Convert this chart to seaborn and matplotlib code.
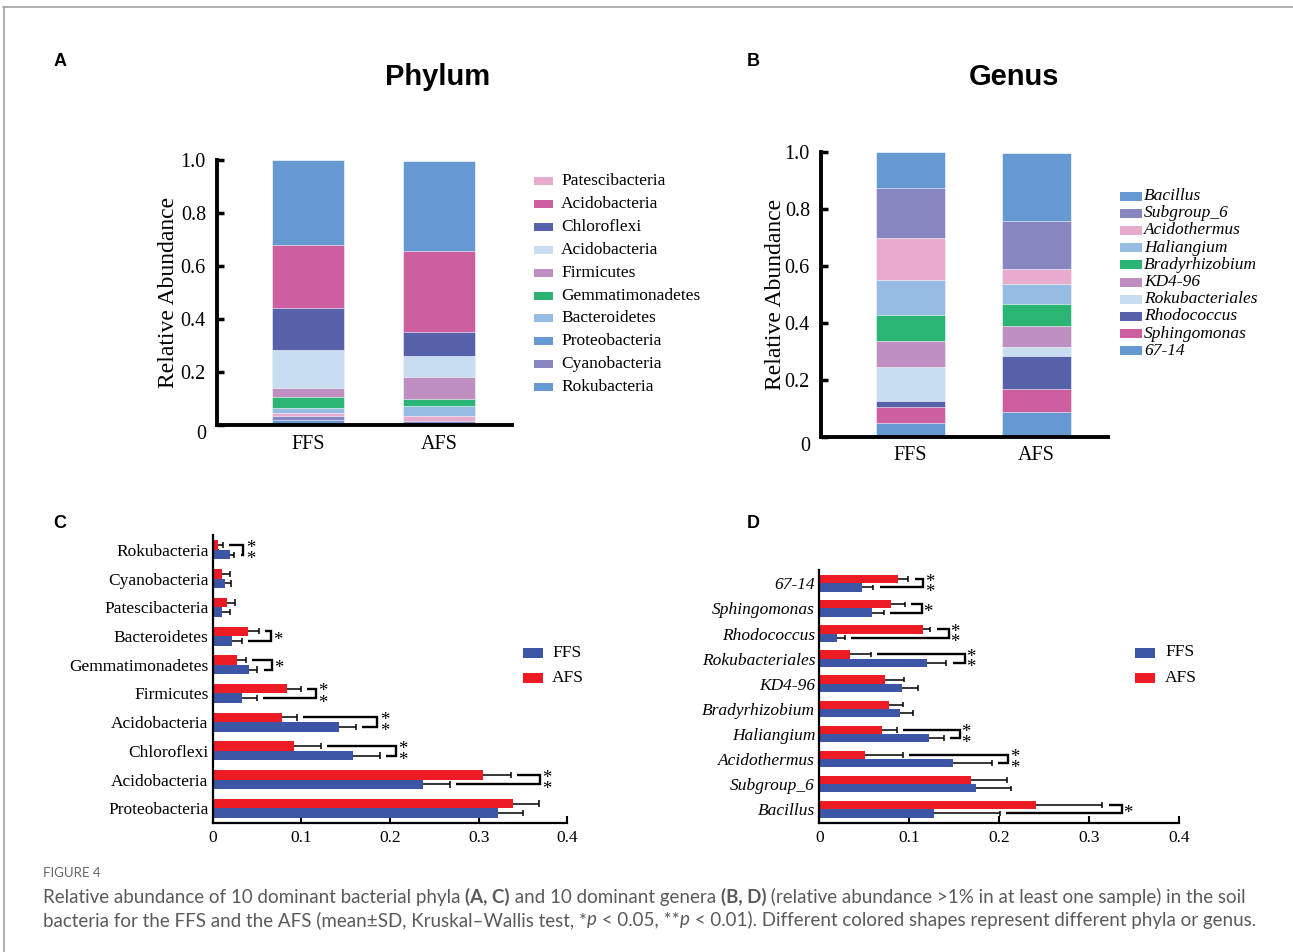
import numpy as np
import pandas as pd
import matplotlib
matplotlib.use("Agg")
import matplotlib.pyplot as plt
from matplotlib.patches import Rectangle
from matplotlib.lines import Line2D
from matplotlib.transforms import offset_copy
import seaborn as sns

# ---------------- data ----------------
groups = ["FFS", "AFS"]

# phyla, listed top-to-bottom in panel C (= bottom-to-top of stacks in panel A)
phyla = ["Rokubacteria", "Cyanobacteria", "Patescibacteria", "Bacteroidetes",
         "Gemmatimonadetes", "Firmicutes", "Acidobacteria", "Chloroflexi",
         "Acidobacteria", "Proteobacteria"]
phy_ffs = [0.0195, 0.014, 0.0105, 0.022, 0.0406, 0.0335, 0.1425, 0.158, 0.2376, 0.3214]
phy_ffs_sd = [0.005, 0.007, 0.009, 0.011, 0.0098, 0.016, 0.019, 0.031, 0.030, 0.029]
phy_afs = [0.0056, 0.011, 0.016, 0.0395, 0.027, 0.0835, 0.078, 0.092, 0.305, 0.339]
phy_afs_sd = [0.0056, 0.009, 0.009, 0.013, 0.0105, 0.016, 0.017, 0.030, 0.031, 0.0286]
phy_sig = ["**", "", "", "*", "*", "**", "**", "**", "**", ""]
phy_legend_order = [2, 8, 7, 6, 5, 4, 3, 9, 1, 0]

# genera, listed top-to-bottom in panel D (= bottom-to-top of stacks in panel B)
genera = ["67-14", "Sphingomonas", "Rhodococcus", "Rokubacteriales", "KD4-96",
          "Bradyrhizobium", "Haliangium", "Acidothermus", "Subgroup_6", "Bacillus"]
gen_ffs = [0.0474, 0.058, 0.0193, 0.120, 0.092, 0.090, 0.1215, 0.149, 0.174, 0.127]
gen_ffs_sd = [0.0126, 0.014, 0.009, 0.021, 0.018, 0.0145, 0.017, 0.0425, 0.039, 0.0737]
gen_afs = [0.087, 0.080, 0.115, 0.034, 0.073, 0.077, 0.070, 0.051, 0.169, 0.2407]
gen_afs_sd = [0.012, 0.015, 0.0085, 0.023, 0.0215, 0.0155, 0.016, 0.0415, 0.039, 0.0737]
gen_sig = ["**", "*", "**", "**", "", "", "**", "**", "", "*"]
gen_legend_order = [9, 8, 7, 6, 5, 4, 3, 2, 1, 0]

xticks_h = [0, 0.1, 0.2, 0.3, 0.4]
xticklabels_h = ["0", "0.1", "0.2", "0.3", "0.4"]
yticks_s = [0, 0.2, 0.4, 0.6, 0.8, 1.0]
yticklabels_s = ["0", "0.2", "0.4", "0.6", "0.8", "1.0"]

# annotation layout (bracket x positions)
phy_bracket_x = [0.0346, None, None, 0.0654, 0.067, 0.116, 0.1857, 0.2068, 0.369, None]
gen_bracket_x = [0.1156, 0.1144, 0.144, 0.162, None, None, 0.156, 0.21, None, 0.336]

# ---------------- colours ----------------
BLUE = "#6699d1"
MAGENTA = "#cd5fa1"
DARKBLUE = "#5761aa"
PALEBLUE = "#c9ddf2"
PURPLEPINK = "#c08fc1"
GREEN = "#2bb574"
LIGHTBLUE = "#96bce4"
PINK = "#e6abcd"
LAVENDER = "#8886c1"
RED_H = "#ed1c24"
BLUE_H = "#3c55a5"

phy_colors = [BLUE, LAVENDER, PINK, LIGHTBLUE, GREEN, PURPLEPINK, PALEBLUE, DARKBLUE, MAGENTA, BLUE]
gen_colors = [BLUE, MAGENTA, DARKBLUE, PALEBLUE, PURPLEPINK, GREEN, LIGHTBLUE, PINK, LAVENDER, BLUE]

# ---------------- style ----------------
W, H = 1293, 952
sns.set_style("white")
plt.rcParams["font.family"] = ["Liberation Serif", "DejaVu Serif"]
for k in ["text.color", "axes.labelcolor", "xtick.color", "ytick.color", "axes.edgecolor"]:
    plt.rcParams[k] = "black"
SANS = ["Liberation Sans", "DejaVu Sans"]
CAPFONT = ["Lato", "DejaVu Sans"]

fig = plt.figure(figsize=(W / 100, H / 100), dpi=100)
fig.patch.set_facecolor("white")
renderer = fig.canvas.get_renderer()


def add_ax(l, t, r, b):
    return fig.add_axes([l / W, 1 - b / H, (r - l) / W, (b - t) / H])


def fx(x):
    return x / W


def fy(y):
    return 1 - y / H


# ---------------- stacked panels ----------------
def stacked(ax, ffs, afs, colors, xlim, ylabel_x):
    cum_f = np.cumsum(ffs)
    cum_a = np.cumsum(afs)
    for j in range(len(ffs) - 1, -1, -1):
        df = pd.DataFrame({"group": groups, "top": [cum_f[j], cum_a[j]]})
        sns.barplot(data=df, x="group", y="top", order=groups, color=colors[j],
                    saturation=1, width=0.55, errorbar=None, edgecolor="white",
                    linewidth=0.4, ax=ax)
    ax.set_xlim(*xlim)
    ax.set_ylim(0, 1.0)
    ax.set_yticks(yticks_s)
    ax.set_yticklabels(yticklabels_s)
    for s in ["top", "right"]:
        ax.spines[s].set_visible(False)
    for s in ["left", "bottom"]:
        ax.spines[s].set_linewidth(2.8)
        ax.spines[s].set_color("black")
        ax.spines[s].set_capstyle("projecting")
    ax.tick_params(axis="y", direction="in", length=5, width=2.5, labelsize=14.5, pad=8, left=True)
    ax.tick_params(axis="x", length=0, labelsize=14.5, pad=7)
    ax.set_xlabel("")
    ax.set_ylabel("Relative Abundance", fontsize=17, va="center")
    ax.yaxis.set_label_coords(ylabel_x, 0.5)
    for t in ax.get_yticklabels():
        if t.get_text() == "0":
            t.set_va("top")


axA = add_ax(217, 160, 512, 425)
stacked(axA, phy_ffs, phy_afs, phy_colors, (-0.70, 1.56), (169 - 217) / 295)
axB = add_ax(821, 151.7, 1108, 436.7)
stacked(axB, gen_ffs, gen_afs, gen_colors, (-0.71, 1.565), (775 - 821) / 287)


def legend_stack(labels, colors, order, x0, x1, tx, y0, dy, ph, italic):
    for k, idx in enumerate(order):
        yc = y0 + dy * k
        fig.add_artist(Rectangle((fx(x0), fy(yc + ph / 2)), (x1 - x0) / W, ph / H,
                                 transform=fig.transFigure, facecolor=colors[idx],
                                 edgecolor="none"))
        fig.text(fx(tx), fy(yc), labels[idx], fontsize=12.5, ha="left", va="center",
                 fontstyle="italic" if italic else "normal")


legend_stack(phyla, phy_colors, phy_legend_order, 534, 553, 561, 181, 22.9, 8, False)
legend_stack(genera, gen_colors, gen_legend_order, 1120, 1142, 1144, 196, 17.2, 9, True)

# height of one text line of the star font (for stacking two stars)
STAR_SIZE = 13.5
_probe = fig.text(0, 0, "lp", fontsize=STAR_SIZE)
LP_H = _probe.get_window_extent(renderer).height
_probe.remove()


# ---------------- horizontal bar panels ----------------
def hbar(ax, labels, ffs, afs, ffs_sd, afs_sd, sig, bracket_x, italic, ylim, star_dx, unit_px):
    n = len(labels)
    keys = [str(i) for i in range(n)]
    df = pd.DataFrame({"key": keys * 2,
                       "value": list(afs) + list(ffs),
                       "group": ["AFS"] * n + ["FFS"] * n})
    sns.barplot(data=df, y="key", x="value", hue="group", order=keys,
                hue_order=["AFS", "FFS"], palette={"AFS": RED_H, "FFS": BLUE_H},
                orient="h", width=0.66, saturation=1, errorbar=None, legend=False,
                linewidth=0, ax=ax)
    ffs = np.asarray(ffs)
    afs = np.asarray(afs)
    ffs_sd = np.asarray(ffs_sd)
    afs_sd = np.asarray(afs_sd)
    y = np.arange(n)
    ya = y - 0.165
    yf = y + 0.165
    cap = 0.11
    ax.hlines(ya, afs, afs + afs_sd, color="black", lw=1.1)
    ax.vlines(afs + afs_sd, ya - cap, ya + cap, color="black", lw=1.1)
    ax.hlines(yf, ffs, ffs + ffs_sd, color="black", lw=1.1)
    ax.vlines(ffs + ffs_sd, yf - cap, yf + cap, color="black", lw=1.1)
    gap = 0.007
    star_tr = offset_copy(ax.transData, fig=fig, x=star_dx, y=-4, units="dots")
    spacing = 0.33 * unit_px / LP_H
    for i in range(n):
        if not sig[i]:
            continue
        bx = bracket_x[i]
        ax.plot([afs[i] + afs_sd[i] + gap, bx, bx, ffs[i] + ffs_sd[i] + gap],
                [ya[i], ya[i], yf[i], yf[i]], color="black", lw=1.7,
                solid_joinstyle="miter", solid_capstyle="butt")
        if sig[i] == "**":
            ax.text(bx, y[i], "*\n*", transform=star_tr, ha="center", va="center",
                    fontsize=STAR_SIZE, linespacing=spacing, multialignment="center")
        else:
            ax.text(bx, y[i], "*", transform=star_tr, ha="center", va="center", fontsize=STAR_SIZE)
    ax.set_xlim(0, 0.4)
    ax.set_ylim(*ylim)
    ax.set_xticks(xticks_h)
    ax.set_xticklabels(xticklabels_h)
    ax.set_yticks(y)
    ax.set_yticklabels(labels, fontstyle="italic" if italic else "normal")
    for s in ["top", "right"]:
        ax.spines[s].set_visible(False)
    for s in ["left", "bottom"]:
        ax.spines[s].set_linewidth(1.6)
        ax.spines[s].set_color("black")
    ax.tick_params(axis="x", direction="in", length=5, width=1.5, labelsize=12.5, pad=5, bottom=True)
    ax.tick_params(axis="y", direction="in", length=4, width=1.5, labelsize=12.5, pad=3, left=True)
    ax.set_xlabel("")
    ax.set_ylabel("")


axC = add_ax(212.7, 535, 567.3, 822.7)
hbar(axC, phyla, phy_ffs, phy_afs, phy_ffs_sd, phy_afs_sd, phy_sig, phy_bracket_x,
     False, (9.5, -0.52), 7, 28.7)
axD = add_ax(819.3, 570, 1179.3, 823.3)
hbar(axD, genera, gen_ffs, gen_afs, gen_ffs_sd, gen_afs_sd, gen_sig, gen_bracket_x,
     True, (9.56, -0.53), 6, 25.1)


def legend_h(x0, tx, y_ffs, y_afs):
    for lab, col, yc in (("FFS", BLUE_H, y_ffs), ("AFS", RED_H, y_afs)):
        fig.add_artist(Rectangle((fx(x0), fy(yc + 5)), 20 / W, 10 / H,
                                 transform=fig.transFigure, facecolor=col, edgecolor="none"))
        fig.text(fx(tx), fy(yc), lab, fontsize=12.5, ha="left", va="center")


legend_h(523, 552, 653, 678)
legend_h(1135, 1165, 652.5, 678)

# ---------------- titles / panel letters ----------------
fig.text(fx(438), fy(77), "Phylum", fontsize=21, fontweight="bold", family=SANS, ha="center", va="center")
fig.text(fx(1014), fy(77), "Genus", fontsize=21, fontweight="bold", family=SANS, ha="center", va="center")
for lab, x, y in (("A", 60, 61), ("B", 753, 61), ("C", 60, 524), ("D", 753, 524)):
    fig.text(fx(x), fy(y), lab, fontsize=13, fontweight="bold", family=SANS, ha="center", va="center")

# ---------------- frame lines ----------------
fig.add_artist(Line2D([fx(3), 1], [fy(6.5), fy(6.5)], transform=fig.transFigure, color="#a0a0a0", lw=1.2))
fig.add_artist(Line2D([fx(3.5), fx(3.5)], [fy(6.5), 0], transform=fig.transFigure, color="#a0a0a0", lw=1.2))

# ---------------- caption ----------------
CAPCOL = "#5a5a5a"

N = {}
B = {"fontweight": "bold"}
I = {"fontstyle": "italic"}
line1 = [("Relative abundance of 10 dominant bacterial phyla ", N), ("(A, C)", B),
         (" and 10 dominant genera ", N), ("(B, D)", B),
         (" (relative abundance >1% in at least one sample) in the soil", N)]
line2 = [("bacteria for the FFS and the AFS (mean\u00b1SD, Kruskal\u2013Wallis test, *", N), ("p", I),
         (" < 0.05, **", N), ("p", I),
         (" < 0.01). Different colored shapes represent different phyla or genus.", N)]


def seg_width(txt, size, kw):
    t1 = fig.text(0, 0, "x" + txt + "x", fontsize=size, family=CAPFONT, **kw)
    t2 = fig.text(0, 0, "xx", fontsize=size, family=CAPFONT, **kw)
    w = t1.get_window_extent(renderer).width - t2.get_window_extent(renderer).width
    t1.remove()
    t2.remove()
    return w


def rich_line(y_px, segs, size, draw=True):
    x = 43
    for txt, kw in segs:
        t = fig.text(fx(x), fy(y_px), txt, fontsize=size, family=CAPFONT, color=CAPCOL,
                     ha="left", va="center", **kw)
        x += seg_width(txt, size, kw)
        if not draw:
            t.remove()
    return x


base = 12.0
end1 = rich_line(897, line1, base, draw=False)
end2 = rich_line(920, line2, base, draw=False)
scale = min((1253 - 43) / (end1 - 43), (1250 - 43) / (end2 - 43))
cap_size = base * scale

fig.text(fx(43), fy(873), "FIGURE 4", fontsize=9.5, family=CAPFONT, color="#666666",
         ha="left", va="center")
rich_line(897, line1, cap_size)
rich_line(920, line2, cap_size)

fig.savefig("out.png", dpi=100, facecolor="white")
